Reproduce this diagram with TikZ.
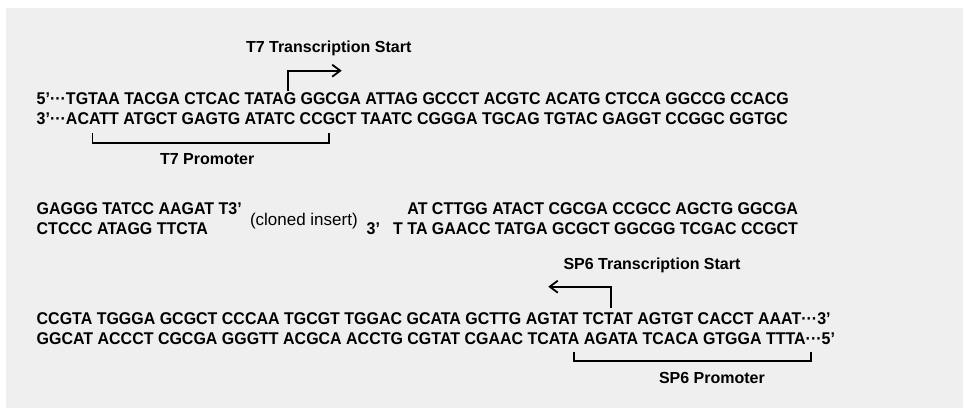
\documentclass[tikz,border=0pt]{standalone}
\usepackage{fontspec}
\setmainfont{Liberation Sans}
\newfontfamily\seqfont[FakeStretch=0.94]{Liberation Sans}
\usetikzlibrary{arrows.meta}
\definecolor{bggray}{HTML}{EFEFEF}
\tikzset{
  seq/.style={inner sep=0pt, outer sep=0pt, font=\seqfont\fontsize{17}{20}\selectfont\bfseries},
  lbl/.style={inner sep=0pt, outer sep=0pt, font=\fontsize{16}{19}\selectfont\bfseries},
  ins/.style={inner sep=0pt, outer sep=0pt, font=\fontsize{17}{20}\selectfont},
  startarrow/.style={line width=1.8pt, -{Straight Barb[length=8pt,width=12pt,line width=1.8pt]}},
  bracket/.style={line width=1.8pt}
}
\begin{document}
\begin{tikzpicture}[x=1pt,y=-1pt]
\useasboundingbox (0,0) rectangle (971,414);
\fill[white] (0,0) rectangle (971,414);
\fill[bggray] (6,8) rectangle (963,408);

% T7 block
\node[lbl, anchor=base west] (t7start) at (246,53) {T7 Transcription Start};
\node[seq, anchor=base west] (l1) at (36.7,105) {5’···TGTAA TACGA CTCAC TATAG GGCGA ATTAG GCCCT ACGTC ACATG CTCCA GGCCG CCACG};
\node[seq, anchor=base west] (l2) at (36.7,125) {3’···ACATT ATGCT GAGTG ATATC CCGCT TAATC CGGGA TGCAG TGTAC GAGGT CCGGC GGTGC};
\node[lbl, anchor=base west] (t7prom) at (160,164.5) {T7 Promoter};

\coordinate (t7a) at (287.7,90.7);
\coordinate (t7b) at (287.7,70.7);
\coordinate (t7c) at (341.7,70.7);
\draw[startarrow] (t7a) -- (t7b) -- (t7c);

\coordinate (t7l) at (92.5,133.3);
\coordinate (t7r) at (329.3,133.3);
\draw[bracket] (t7l) -- ++(0,10) -| (t7r);

% insert block
\node[seq, anchor=base west] (l3a) at (36.7,214) {GAGGG TATCC AAGAT T3’};
\node[seq, anchor=base west] (l4a) at (36.7,234.5) {CTCCC ATAGG TTCTA};
\node[ins, anchor=base west] (insert) at (250,225.7) {(cloned insert)};
\node[seq, anchor=base west] (l4three) at (366.7,234.5) {3’};
\node[seq, anchor=base east] (l3b) at (798,214) {AT CTTGG ATACT CGCGA CCGCC AGCTG GGCGA};
\node[seq, anchor=base east] (l4b) at (798,234.5) {T TA GAACC TATGA GCGCT GGCGG TCGAC CCGCT};

% SP6 block
\node[lbl, anchor=base west] (sp6start) at (563.5,269) {SP6 Transcription Start};
\node[seq, anchor=base west] (l5) at (36.7,324) {CCGTA TGGGA GCGCT CCCAA TGCGT TGGAC GCATA GCTTG AGTAT TCTAT AGTGT CACCT AAAT···3’};
\node[seq, anchor=base west] (l6) at (36.7,344) {GGCAT ACCCT CGCGA GGGTT ACGCA ACCTG CGTAT CGAAC TCATA AGATA TCACA GTGGA TTTA···5’};
\node[lbl, anchor=base west] (sp6prom) at (659,383) {SP6 Promoter};

\coordinate (spa) at (611,308.3);
\coordinate (spb) at (611,286.7);
\coordinate (spc) at (548.3,286.7);
\draw[startarrow] (spa) -- (spb) -- (spc);

\coordinate (spl) at (574.3,351.7);
\coordinate (spr) at (811,351.7);
\draw[bracket] (spl) -- ++(0,9) -| (spr);
\end{tikzpicture}
\end{document}
